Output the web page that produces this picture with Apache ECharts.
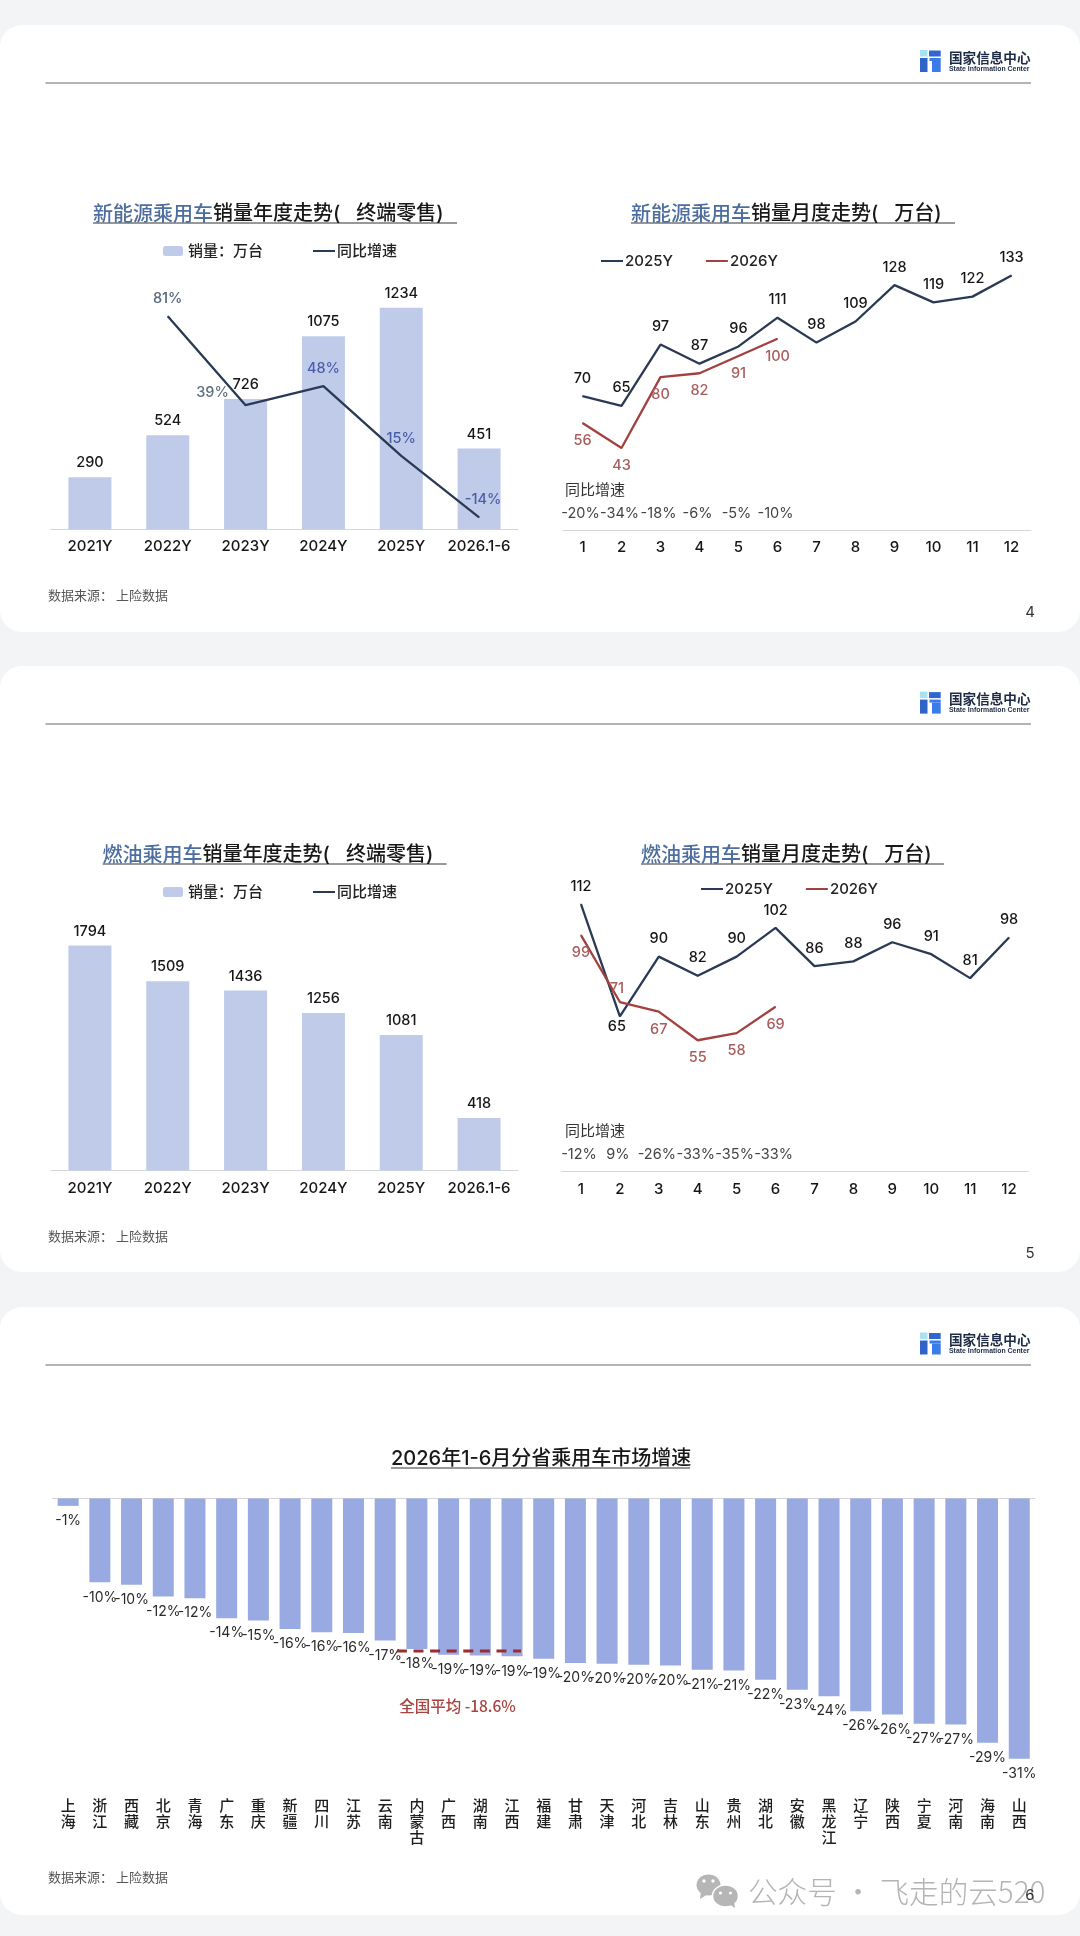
<!DOCTYPE html>
<html><head><meta charset="utf-8">
<style>html,body{margin:0;padding:0;background:#f2f4f6}#c{width:1080px;height:1936px}</style>
<script src="https://cdn.jsdelivr.net/npm/echarts@6/dist/echarts.min.js"></script>
</head><body><div id="c"></div>
<script>
const yearCats = ['2021Y','2022Y','2023Y','2024Y','2025Y','2026.1-6'];
const nevYearSales = [290,524,726,1075,1234,451];
const nevYearYoy = [null,81,39,48,15,-14];
const iceYearSales = [1794,1509,1436,1256,1081,418];
const months = ['1','2','3','4','5','6','7','8','9','10','11','12'];
const nev2025 = [70,65,97,87,96,111,98,109,128,119,122,133];
const nev2026 = [56,43,80,82,91,100];
const nevYoyText = ['-20%','-34%','-18%','-6%','-5%','-10%','','','','','',''];
const ice2025 = [112,65,90,82,90,102,86,88,96,91,81,98];
const ice2026 = [99,71,67,55,58,69];
const iceYoyText = ['-12%','9%','-26%','-33%','-35%','-33%','','','','','',''];
const provinces = ['上海','浙江','西藏','北京','青海','广东','重庆','新疆','四川','江苏','云南','内蒙古','广西','湖南','江西','福建','甘肃','天津','河北','吉林','山东','贵州','湖北','安徽','黑龙江','辽宁','陕西','宁夏','河南','海南','山西'];
const provinceGrowth = [-0.9,-10.1,-10.4,-11.8,-12.0,-14.4,-14.7,-15.7,-16.1,-16.2,-17.1,-18.1,-18.8,-18.9,-19.0,-19.3,-19.8,-19.9,-20.0,-20.1,-20.6,-20.7,-21.8,-23.0,-23.8,-25.6,-26.0,-27.1,-27.2,-29.4,-31.3];
const avgLineLevel = -18.35;
const avgLineFrom = 11, avgLineTo = 14;
const avgText = '全国平均 -18.6%';

const FONT = 'Inter, "Noto Sans CJK SC", sans-serif';
const CJK = '"Noto Sans CJK SC", sans-serif';
const NAVY = '#2b3a54', RED = '#a2413f', BAR = '#bfcbe9', BAR2 = '#98aae1';
const LBL_RED = '#a85c5c', AXIS = '#d4d6da';

const graphic = [];
function card(y0, y1){ graphic.push({type:'rect',z:-10,silent:true,shape:{x:0,y:y0,width:1080,height:y1-y0,r:22},style:{fill:'#fff'}}); }
function hline(x0,x1,y,color,w,z){ graphic.push({type:'line',z:z||5,silent:true,shape:{x1:x0,y1:y,x2:x1,y2:y},style:{stroke:color,lineWidth:w}}); }
function txt(x,y,text,size,fill,opt){ graphic.push({type:'text',z:(opt&&opt.z)||6,silent:true,style:Object.assign({x,y,text,fontSize:size,fill,fontFamily:CJK,verticalAlign:'middle',align:'left'},opt||{})}); }
function box(x,y,w,h,fill){ graphic.push({type:'rect',z:5,silent:true,shape:{x,y,width:w,height:h},style:{fill}}); }
function logo(y){
  box(920,y,7.5,6.5,'#a8e2f0'); box(929,y+0.5,11.7,6,'#2f66cf');
  box(920,y+8,7.5,14,'#2f63c6'); box(929.5,y+8,11.2,3,'#3a7bea'); box(932,y+11,8.7,11,'#3a7bea');
  txt(949,y+7.5,'国家信息中心',13.6,'#1c2a44',{fontWeight:'bold'});
  txt(949,y+18.8,'State Information Center',6.9,'#1c2a44',{fontWeight:'bold',fontFamily:'"Liberation Sans",sans-serif'});
}
[[25,632,83,50,595],[666,1272,724,691.6,1236],[1307,1915,1365,1332.5,1877]].forEach(r=>{
  card(r[0],r[1]); hline(45.5,1031,r[2],'#6a6a6a',1.2); logo(r[3]);
  txt(48,r[4],'数据来源： 上险数据',13,'#555');
});
// watermark
graphic.push({type:'ellipse',z:5,silent:true,shape:{cx:708.5,cy:1885,rx:12,ry:10.5},style:{fill:'#b6b6b6'}});
graphic.push({type:'polygon',z:5,silent:true,shape:{points:[[701,1891],[700,1899],[708,1894]]},style:{fill:'#b6b6b6'}});
graphic.push({type:'ellipse',z:5,silent:true,shape:{cx:725.5,cy:1896,rx:13,ry:11},style:{fill:'#b6b6b6',stroke:'#fff',lineWidth:1.5}});
graphic.push({type:'polygon',z:5,silent:true,shape:{points:[[729,1904],[735,1908],[734,1901]]},style:{fill:'#b6b6b6'}});
[[704,1881,1.7],[713,1881,1.7],[720.5,1893,1.6],[730.5,1893,1.6]].forEach(p=>graphic.push({type:'circle',z:6,silent:true,shape:{cx:p[0],cy:p[1],r:p[2]},style:{fill:'#fff'}}));
txt(748,1891.5,'公众号 · 飞走的云520',29.6,'#b4b4b4',{fontWeight:300});
[[1030,612,'4'],[1030,1253.5,'5'],[1030,1895.5,'6']].forEach(p=>txt(p[0],p[1],p[2],15,'#333',{align:'center',z:8,fontFamily:FONT}));
// title underlines
[[93,457,223],[631,955,223],[102.6,446.6,864],[641,944,864],[391,690,1468]].forEach(u=>hline(u[0],u[1],u[2],'#333',1));
txt(565,489,'同比增速',15,'#333'); txt(565,1130.5,'同比增速',15,'#333');
txt(457.5,1706,avgText,15.5,'#a8443f',{align:'center',fontWeight:500});

function title(left,cy,blue,black,size){
  return {left,top:cy-(size||20)*0.68+4.5,padding:0,text:(blue?'{a|'+blue+'}':'')+'{b|'+black+'}',
    textStyle:{rich:{a:{fontSize:size||20,fontWeight:500,color:'#4d6e9e',fontFamily:CJK},b:{fontSize:size||20,fontWeight:500,color:'#181818',fontFamily:FONT}}}};
}
const titles = [
  title(93,213,'新能源乘用车','销量年度走势(   终端零售)'),
  title(631,213,'新能源乘用车','销量月度走势(   万台)'),
  title(102.6,854,'燃油乘用车','销量年度走势(   终端零售)'),
  title(641,854,'燃油乘用车','销量月度走势(   万台)'),
  title(391,1458,'','2026年1-6月分省乘用车市场增速')
];
const swatchLg = (left,top,data)=>({left,top,padding:0,itemWidth:20,itemHeight:10,selectedMode:false,data,textStyle:{fontSize:15,color:'#222',fontWeight:500,fontFamily:FONT}});
const lineLg = (left,top,gap,names)=>({left,top,padding:0,itemWidth:22,itemHeight:2,itemGap:gap,selectedMode:false,
  data:names.map(name=>({name,icon:'rect'})),textStyle:{fontSize:15,color:'#222',fontWeight:500,fontFamily:FONT,padding:[0,0,0,-3]}});
const legends = [
  swatchLg(163,243.5,['销量：万台']), lineLg(313,243.5,0,['同比增速']),
  lineLg(601,253.5,33,['2025Y','2026Y']),
  swatchLg(163,884.5,['销量：万台']), lineLg(313,884.5,0,['同比增速']),
  lineLg(701,881.5,33,['2025Y','2026Y'])
];
const grids = [
  {left:51,width:467,top:260,height:269.4},
  {left:563,width:468,top:243,height:287.3},
  {left:51,width:467,top:919.7,height:250.8},
  {left:561.5,width:467,top:861,height:310.7},
  {left:52.3,width:982.8,top:1498.4,height:291},
  {left:561,width:468,top:500,height:1},
  {left:559.5,width:467,top:1141.7,height:1}
];
const catAxis = (gridIndex,data,fs,extra)=>Object.assign({type:'category',gridIndex,data,axisTick:{show:false},
  axisLine:{lineStyle:{color:AXIS,width:1}},axisLabel:{interval:0,fontSize:fs,fontWeight:500,color:'#161616',fontFamily:FONT,margin:10}},extra||{});
const xAxes = [
  catAxis(0,yearCats,15), catAxis(1,months,15), catAxis(2,yearCats,15), catAxis(3,months,15),
  catAxis(4,provinces,14,{position:'top',axisLabel:{show:false}}),
  catAxis(4,provinces,14,{position:'bottom',axisLine:{show:false},axisLabel:{interval:0,margin:8,fontSize:15,fontWeight:500,color:'#1e1e1e',fontFamily:CJK,lineHeight:15.8,verticalAlign:'top',formatter:v=>v.split('').join('\n')}}),
  catAxis(5,nevYoyText,14.5,{axisLine:{show:false},axisLabel:{interval:0,margin:5,fontSize:14.5,color:'#444',fontFamily:FONT}}),
  catAxis(6,iceYoyText,14.5,{axisLine:{show:false},axisLabel:{interval:0,margin:5,fontSize:14.5,color:'#444',fontFamily:FONT}})
];
const val = (gridIndex,min,max)=>({type:'value',gridIndex,min,max,show:false});
const yAxes = [val(0,0,1500),val(1,0,150),val(2,0,2000),val(3,0,130),val(4,-35,0),val(5,0,1),val(6,0,1),val(0,-19.7,107.6)];

function barSeries(xi,yi,data){
  return {type:'bar',name:'销量：万台',xAxisIndex:xi,yAxisIndex:yi,data,barWidth:43,itemStyle:{color:BAR},
    label:{show:true,position:'top',distance:7,fontSize:14.5,fontWeight:500,color:'#161616',fontFamily:FONT}};
}
function lineSeries(name,xi,yi,values,color,lblColor,pos,offsets,fmt){
  return {type:'line',name,xAxisIndex:xi,yAxisIndex:yi,symbol:'circle',symbolSize:1,showAllSymbol:true,z:3,
    lineStyle:{color,width:2.3},itemStyle:{color},
    data:values.map((v,i)=>({value:v,label:{show:v!=null,position:(pos&&pos[i])||pos.def,offset:(offsets&&offsets[i])||[0,0],color:Array.isArray(lblColor)?lblColor[i]:lblColor}})),
    label:{show:true,fontSize:14.5,fontWeight:500,distance:10,fontFamily:FONT,formatter:fmt||(p=>p.value)}};
}
const series = [
  barSeries(0,0,nevYearSales),
  lineSeries('同比增速',0,7,nevYearYoy,NAVY,[null,'#55657a','#5f6f82','#4a5da8','#4a5da8','#4a5da8'],{def:'top'},
    {2:[-33,5],4:[0,0],5:[4,0]},p=>p.value+'%'),
  lineSeries('2025Y',1,1,nev2025,NAVY,'#161616',{def:'top'}),
  lineSeries('2026Y',1,1,nev2026,RED,LBL_RED,{def:'bottom'}),
  barSeries(2,2,iceYearSales),
  lineSeries('2025Y',3,3,ice2025,NAVY,'#161616',{def:'top',1:'bottom'},{1:[-3,-7]}),
  lineSeries('2026Y',3,3,ice2026,RED,LBL_RED,{def:'bottom',1:'top'},{1:[-3,4]}),
  {type:'bar',name:'增速',xAxisIndex:4,yAxisIndex:4,data:provinceGrowth,barWidth:21,itemStyle:{color:BAR2},
    label:{show:true,position:'bottom',distance:8,fontSize:14,color:'#2a2a2a',fontFamily:FONT,formatter:p=>Math.round(p.value)+'%'}},
  {type:'custom',name:'全国平均',xAxisIndex:4,yAxisIndex:4,z:5,data:[[avgLineFrom,avgLineTo,avgLineLevel]],silent:true,
    renderItem:(params,api)=>{
      const a=api.coord([api.value(0),api.value(2)]), b=api.coord([api.value(1),api.value(2)]);
      return {type:'line',shape:{x1:a[0]-20,y1:a[1],x2:b[0]+9,y2:b[1]},style:{stroke:'#9c2b32',lineWidth:3,lineDash:[10,6.6],fill:null}};
    }}
];
const chart = echarts.init(document.getElementById('c'),null,{width:1080,height:1936});
chart.setOption({animation:false,backgroundColor:'transparent',title:titles,legend:legends,grid:grids,xAxis:xAxes,yAxis:yAxes,series,graphic:{elements:graphic},tooltip:{show:false}});
</script></body></html>
